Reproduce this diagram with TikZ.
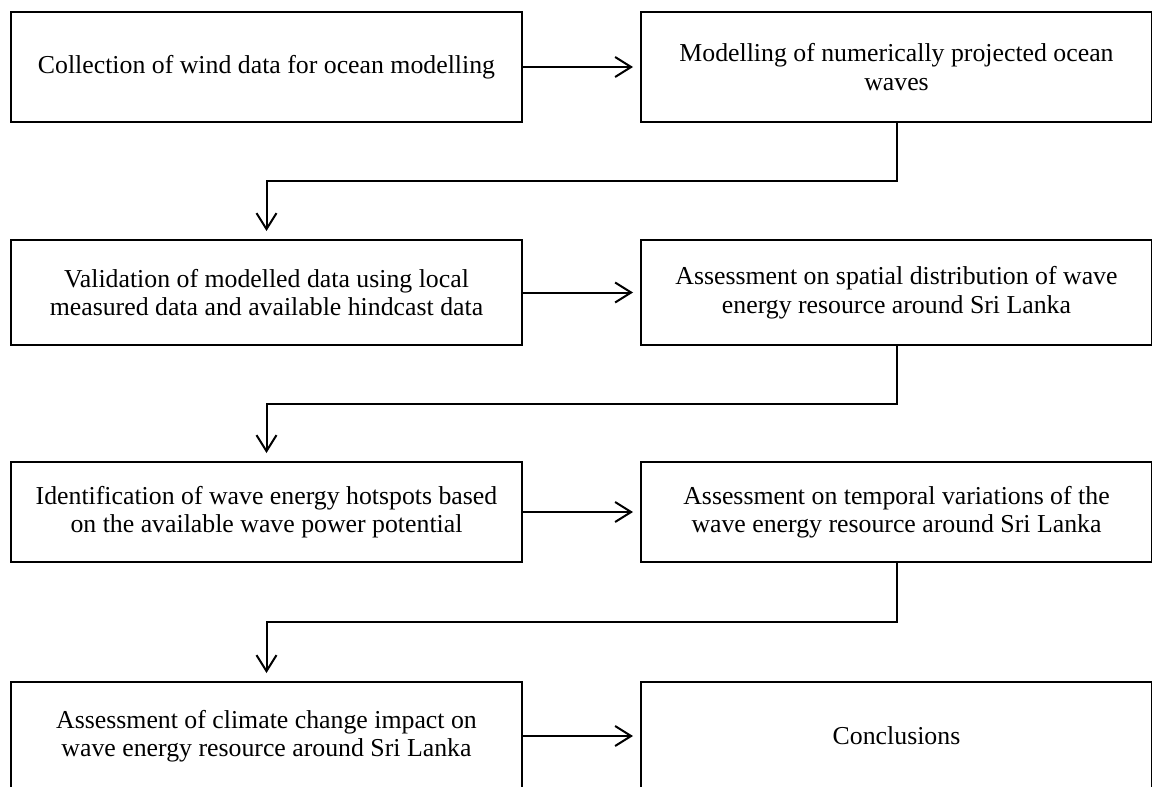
\documentclass[tikz,border=0pt]{standalone}
\usepackage{fontspec}
\setmainfont{Liberation Serif}
\usetikzlibrary{positioning,arrows.meta}

\begin{document}
\begin{tikzpicture}[x=0.5pt,y=-0.5pt,
  stagebox/.style={draw,line width=1pt,rectangle,minimum width=255.5pt,align=center,inner sep=0pt,
    font=\fontsize{12.9}{14.25}\selectfont},
  flow/.style={line width=1pt,-{Straight Barb[length=8pt,width=10pt,line width=1pt]},shorten >=3.5pt},
  node distance=58.5pt]

\useasboundingbox (0,0) rectangle (1152,787);

\path (266.5,67) coordinate (R1);
\path (266.5,292.5) coordinate (R2);
\path (266.5,512) coordinate (R3);
\path (266.5,736) coordinate (R4);

% left column at the row coordinates, right column beside it
\node [stagebox, minimum height=55pt] (collect) at (R1) {Collection of wind data for ocean modelling};
\node [stagebox, minimum height=55pt, right=of collect] (model) {Modelling of numerically projected ocean\\waves};

\node [stagebox, minimum height=52.5pt] (valid) at (R2) {Validation of modelled data using local\\measured data and available hindcast data};
\node [stagebox, minimum height=52.5pt, right=of valid] (spatial) {Assessment on spatial distribution of wave\\energy resource around Sri Lanka};

\node [stagebox, minimum height=50pt] (hotspot) at (R3) {Identification of wave energy hotspots based\\on the available wave power potential};
\node [stagebox, minimum height=50pt, right=of hotspot] (temporal) {Assessment on temporal variations of the\\wave energy resource around Sri Lanka};

\node [stagebox, minimum height=54pt] (climate) at (R4) {Assessment of climate change impact on\\wave energy resource around Sri Lanka};
\node [stagebox, minimum height=54pt, right=of climate] (concl) {Conclusions};

\path (model.south) -- (valid.north) coordinate[pos=0.5] (M1);
\path (spatial.south) -- (hotspot.north) coordinate[pos=0.5] (M2);
\path (temporal.south) -- (climate.north) coordinate[pos=0.5] (M3);

\draw [flow] (collect) -- (model);
\draw [flow] (valid) -- (spatial);
\draw [flow] (hotspot) -- (temporal);
\draw [flow] (climate) -- (concl);

\draw [flow, shorten >=4pt] (model.south) -- (model.south |- M1) -| (valid.north);
\draw [flow, shorten >=4pt] (spatial.south) -- (spatial.south |- M2) -| (hotspot.north);
\draw [flow, shorten >=4pt] (temporal.south) -- (temporal.south |- M3) -| (climate.north);

\end{tikzpicture}
\end{document}
